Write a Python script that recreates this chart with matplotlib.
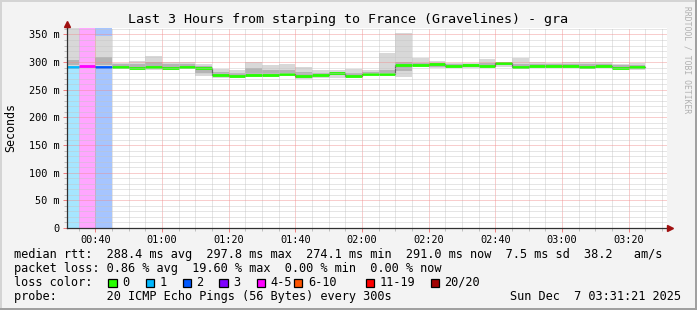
import matplotlib
matplotlib.use("Agg")
import matplotlib.pyplot as plt
from matplotlib.patches import Rectangle
import numpy as np

# ---------------- data ----------------
# interval start times (minutes after midnight), 5-minute steps
interval_start = [30, 35, 40, 45, 50, 55, 60, 65, 70, 75, 80, 85, 90, 95, 100,
                  105, 110, 115, 120, 125, 130, 135, 140, 145, 150, 155, 160,
                  165, 170, 175, 180, 185, 190, 195, 200]
median_ms = [290.6, 293.5, 291.0, 291.0, 290.0, 291.0, 290.0, 291.0, 290.0,
             277.0, 275.5, 276.7, 276.7, 279.0, 274.1, 276.7, 281.0, 275.5,
             279.0, 278.0, 294.7, 295.0, 296.0, 293.0, 295.0, 293.0, 297.8,
             291.7, 293.5, 293.5, 293.5, 291.0, 292.4, 290.0, 291.0]
smoke_min = [289, np.nan, 289, 289, 287, 286, 285, 288, 275, 272, 272, 273, 273,
             274, 270, 272, 272, 272, 276, 274, 273, 291, 290, 290, 290, 290,
             292, 289, 290, 290, 290, 288, 290, 289, 286]
smoke_max = [400, np.nan, 347, 299, 302, 311, 301, 301, 297, 287, 286, 301, 295,
             297, 292, 286, 286, 287, 285, 316, 352, 308, 302, 299, 299, 305,
             300, 307, 301, 299, 300, 301, 301, 297, 299]
inner_lo = [295, np.nan, 295, 291, 289, 289, 288, 290, 280, 275, 274, 275, 275,
            276, 272, 274, 276, 274, 277, 276, 284, 293, 292, 291, 292, 291,
            294, 290, 292, 291, 291, 290, 291, 290, 288]
inner_hi = [304, np.nan, 310, 296, 297, 300, 296, 296, 293, 283, 280, 290, 285,
            286, 282, 281, 283, 281, 282, 285, 300, 299, 298, 296, 297, 298,
            299, 297, 296, 296, 296, 296, 296, 294, 295]
lost_pings = [1, 4, 2, 0, 0, 0, 0, 0, 0, 0, 0, 0, 0, 0, 0, 0, 0, 0, 0, 0, 0, 0,
              0, 0, 0, 0, 0, 0, 0, 0, 0, 0, 0, 0, 0]

loss_labels = ["0", "1", "2", "3", "4-5", "6-10", "11-19", "20/20"]
loss_colors = ["#26ff00", "#00b8ff", "#0059ff", "#7e00ff", "#ff00ff",
               "#ff5500", "#ff0000", "#a10000"]

xtick_pos = [40, 60, 80, 100, 120, 140, 160, 180, 200]
xtick_labels = ["00:40", "01:00", "01:20", "01:40", "02:00", "02:20", "02:40",
                "03:00", "03:20"]
ytick_pos = [0, 50, 100, 150, 200, 250, 300, 350]
ytick_labels = ["0", "50 m", "100 m", "150 m", "200 m", "250 m", "300 m", "350 m"]

title = "Last 3 Hours from starping to France (Gravelines) - gra"
legend_lines = [
    "median rtt:  288.4 ms avg  297.8 ms max  274.1 ms min  291.0 ms now  7.5 ms sd  38.2   am/s",
    "packet loss: 0.86 % avg  19.60 % max  0.00 % min  0.00 % now",
]
probe_text = "probe:       20 ICMP Echo Pings (56 Bytes) every 300s"
date_text = "Sun Dec  7 03:31:21 2025"

STEP = 5.0
X0, X1 = 31.35, 211.35
YMAX = 361.7


def loss_class(n):
    if n <= 0:
        return 0
    if n == 1:
        return 1
    if n == 2:
        return 2
    if n == 3:
        return 3
    if n <= 5:
        return 4
    if n <= 10:
        return 5
    if n <= 19:
        return 6
    return 7


# ---------------- figure ----------------
W, H = 697, 310
DPI = 100
MONO = "DejaVu Sans Mono"
fig = plt.figure(figsize=(W / DPI, H / DPI), dpi=DPI, facecolor="#f3f3f3")


def fx(x):
    return x / W


def fy(y):
    return 1 - y / H


# 3D frame
fig.add_artist(Rectangle((0, fy(2)), 1, 2 / H, transform=fig.transFigure,
                         fc="#d4d4d4", ec="none"))
fig.add_artist(Rectangle((0, 0), 2 / W, 1, transform=fig.transFigure,
                         fc="#d4d4d4", ec="none"))
fig.add_artist(Rectangle((0, 0), 1, 2 / H, transform=fig.transFigure,
                         fc="#a0a0a0", ec="none"))
fig.add_artist(Rectangle((fx(695), 0), 2 / W, 1, transform=fig.transFigure,
                         fc="#a0a0a0", ec="none"))

ax_l, ax_r, ax_t, ax_b = 66.5, 666.5, 28, 228
ax = fig.add_axes([fx(ax_l), fy(ax_b), (ax_r - ax_l) / W, (ax_b - ax_t) / H])
ax.set_facecolor("white")
ax.set_xlim(X0, X1)
ax.set_ylim(0, YMAX)

starts = np.array(interval_start, dtype=float)
med = np.array(median_ms, dtype=float)

# loss bands
for s, n in zip(starts, lost_pings):
    c = loss_class(n)
    if c > 0:
        ax.axvspan(s, s + STEP, color=loss_colors[c], alpha=0.35, lw=0, zorder=0.5)

# smoke
smin = np.array(smoke_min, dtype=float)
smax = np.array(smoke_max, dtype=float)
ilo = np.array(inner_lo, dtype=float)
ihi = np.array(inner_hi, dtype=float)
ok = ~np.isnan(smin)
ax.bar(starts[ok], smax[ok] - smin[ok], bottom=smin[ok], width=STEP,
       align="edge", color="#d8d8d8", lw=0, zorder=1)
ax.bar(starts[ok], ihi[ok] - ilo[ok], bottom=ilo[ok], width=STEP,
       align="edge", color="#b4b4b4", lw=0, zorder=1.1)

# dark thin median step line
xs = np.append(starts, starts[-1] + STEP)
ys = np.append(med, med[-1])
ax.step(xs, ys, where="post", color="#202020", lw=0.8, zorder=1.5)

# coloured median segments
for s, m, n in zip(starts, med, lost_pings):
    ax.hlines(m, s, s + STEP, colors=loss_colors[loss_class(n)], lw=2.0,
              zorder=1.8)

# grid
ax.set_xticks(xtick_pos)
ax.set_xticklabels(xtick_labels)
ax.set_xticks(np.arange(35, 211, 5), minor=True)
ax.set_yticks(ytick_pos)
ax.set_yticklabels(ytick_labels)
ax.set_yticks(np.arange(0, 361, 10), minor=True)
ax.set_axisbelow(False)
ax.grid(which="minor", color="#c4c4c4", lw=0.72, ls=(0, (1, 1)), alpha=0.85)
ax.grid(which="major", color="#f08c8c", lw=0.72, ls=(0, (1, 1)), alpha=0.85)

for sp in ["top", "right"]:
    ax.spines[sp].set_visible(False)
for sp in ["left", "bottom"]:
    ax.spines[sp].set_color("#303030")
    ax.spines[sp].set_linewidth(0.9)
    ax.spines[sp].set_zorder(3)

ax.tick_params(which="both", direction="out", width=0.72)
ax.tick_params(which="major", length=3, labelsize=7.4, pad=2, color="#f08080")
ax.tick_params(which="minor", length=2, color="#c0c0c0")
for lab in ax.get_xticklabels() + ax.get_yticklabels():
    lab.set_family(MONO)

# arrows
ax.plot([0, 0], [1, 1.025], transform=ax.transAxes, color="#303030", lw=0.9,
        clip_on=False)
ax.plot([0], [1.02], transform=ax.transAxes, marker="^", color="#a01010",
        ms=4.5, clip_on=False, zorder=5)
ax.plot([1, 1.004], [0, 0], transform=ax.transAxes, color="#303030", lw=0.9,
        clip_on=False)
ax.plot([1.006], [0], transform=ax.transAxes, marker=">", color="#a01010",
        ms=4.5, clip_on=False, zorder=5)

# texts
fig.text(fx(347.5), fy(19), title, family=MONO, fontsize=9.6, ha="center",
         va="center")
fig.text(fx(11), fy(127), "Seconds", family=MONO, fontsize=8.4, rotation=90,
         ha="center", va="center")
fig.text(fx(686.5), fy(60), "RRDTOOL / TOBI OETIKER", family=MONO, fontsize=5.8,
         rotation=270, ha="center", va="center", color="#b0b0b0")

fig.text(fx(14), fy(254.3), legend_lines[0], family=MONO, fontsize=8.55,
         ha="left", va="center")
fig.text(fx(14), fy(268.3), legend_lines[1], family=MONO, fontsize=8.55,
         ha="left", va="center")
fig.text(fx(14), fy(282.3), "loss color:", family=MONO, fontsize=8.55,
         ha="left", va="center")
box_x = [108.3, 145.7, 182.7, 219.3, 256.7, 294.0, 365.7, 430.7]
for bx, lab, col in zip(box_x, loss_labels, loss_colors):
    fig.add_artist(Rectangle((fx(bx), fy(287)), 8.3 / W, 8.3 / H,
                             transform=fig.transFigure, fc=col, ec="black",
                             lw=0.9))
    fig.text(fx(bx + 13.8), fy(282.3), lab, family=MONO, fontsize=8.55,
             ha="left", va="center")
fig.text(fx(14), fy(296.3), probe_text, family=MONO, fontsize=8.55,
         ha="left", va="center")
fig.text(fx(680.5), fy(296.3), date_text, family=MONO, fontsize=8.55,
         ha="right", va="center")

fig.savefig("out.png", dpi=DPI, facecolor=fig.get_facecolor())
